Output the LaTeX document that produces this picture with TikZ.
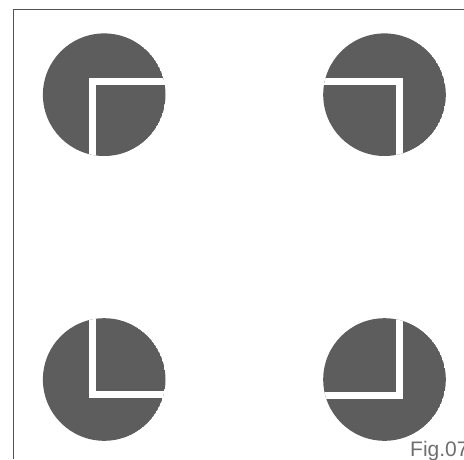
\documentclass[tikz,border=0pt]{standalone}
\usepackage{fontspec}
\setsansfont{Liberation Sans}
\definecolor{discgray}{HTML}{5D5D5D}
\definecolor{framebrown}{HTML}{5E4C4C}
\definecolor{labelgray}{HTML}{6E6E6E}
\tikzset{
    every node/.style={font=\sffamily},
    disc/.style={fill=discgray},
    gap/.style={draw=white,line width=7pt,line join=miter,line cap=butt},
    frameline/.style={draw=framebrown,line width=1.1pt},
    figlabel/.style={text=labelgray,inner sep=0pt,font=\sffamily\fontsize{21}{21}\selectfont}
}

\begin{document}
\begin{tikzpicture}[x=1pt,y=-1pt]
\useasboundingbox (0,0) rectangle (464,459);
\clip (0,0) rectangle (464,459);
\draw[frameline] (13.3,459) -- (13.3,9.4) -- (464,9.4);
\foreach \cx/\cy/\vx/\hy/\dx/\dy in {104.2/94.7/92/81.7/1/1,384.5/94.7/399/81.7/-1/1,104.2/379.5/92/394.8/1/-1,384.5/379.5/399/395.3/-1/-1}{
    \begin{scope}
    \clip (\cx,\cy) circle[radius=61.3];
    \fill[disc] (\cx,\cy) circle[radius=61.3];
    \draw[gap] (\vx,{\hy+(\dy*90)}) -- (\vx,\hy) -- ({\vx+(\dx*90)},\hy);
    \end{scope}
}
\node[figlabel,anchor=base west] (figtag) at (410,456) {Fig.07};
\end{tikzpicture}
\end{document}
